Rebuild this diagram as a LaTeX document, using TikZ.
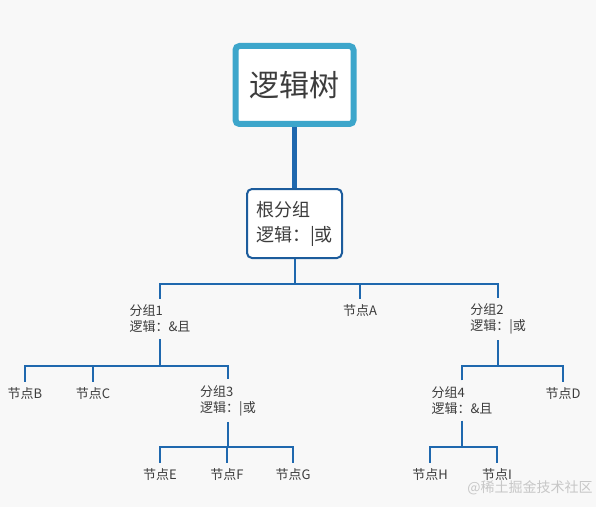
\documentclass[tikz,border=0pt]{standalone}
\usepackage{fontspec}
\newfontfamily\cjk{Noto Sans CJK SC}
\usepackage{xcolor}
\usetikzlibrary{positioning, calc}
\definecolor{titleblue}{HTML}{3DA6CB}
\definecolor{lineblue}{HTML}{1F68AE}
\definecolor{boxblue}{HTML}{1C5C9C}
\definecolor{textgray}{HTML}{3C3C3C}
\definecolor{bggray}{HTML}{F8F8F8}

\begin{document}
\begin{tikzpicture}[x=1pt, y=1pt,
    small/.style={font=\cjk\fontsize{13}{16}\selectfont, text=textgray, inner sep=6pt},
    group/.style={small, align=left},
    conn/.style={draw=lineblue, line width=2pt},
    trunk/.style={draw=lineblue, line width=5pt}]
    \fill[bggray] (0,0) rectangle (596,507);
    \useasboundingbox (0,0) rectangle (596,507);

    % title and root group
    \node[draw=titleblue, line width=6pt, fill=white, rounded corners=4pt,
      minimum width=118pt, minimum height=78pt, text=textgray,
      font=\cjk\fontsize{30}{36}\selectfont] (title) at (294.5,422) {逻辑树};
    \node[draw=boxblue, line width=2pt, fill=white, rounded corners=5pt,
      minimum width=95pt, minimum height=69pt, align=left, text=textgray,
      font=\cjk\fontsize{18}{25}\selectfont] (root) at (294.5,283.5) {根分组\\逻辑：|或};
    \draw[trunk] (title.south) -- (root.north);

    % first level
    \node[group] (g1) at (160,188) {分组1\\逻辑：\&且};
    \node[small] (na) at (360,196) {节点A};
    \node[group] (g2) at (498,188) {分组2\\逻辑：|或};
    \coordinate (j1) at (294.5,223);
    \draw[conn] (root.south) -- (j1);
    \draw[conn] (g1.north) |- (j1) -| (g2.north);
    \draw[conn] (j1) -| (na.north);

    % second level
    \node[small] (nb) at (25,113) {节点B};
    \node[small] (nc) at (93,113) {节点C};
    \node[group] (g3) at (228,106.5) {分组3\\逻辑：|或};
    \coordinate (j2) at (160,141);
    \draw[conn] (g1.south) -- (j2);
    \draw[conn] (nb.north) |- (j2) -| (g3.north);
    \draw[conn] (j2) -| (nc.north);

    \node[group] (g4) at (462,106.5) {分组4\\逻辑：\&且};
    \node[small] (nd) at (563,113) {节点D};
    \coordinate (j3) at (498,141);
    \draw[conn] (g2.south) -- (j3);
    \draw[conn] (g4.north) |- (j3) -| (nd.north);

    % third level
    \node[small] (ne) at (160,32) {节点E};
    \node[small] (nf) at (227,32) {节点F};
    \node[small] (ng) at (293,32) {节点G};
    \coordinate (j4) at (228,60);
    \draw[conn] (g3.south) -- (j4);
    \draw[conn] (ne.north) |- (j4) -| (ng.north);
    \draw[conn] (j4) -| (nf.north);

    \node[small] (nh) at (430,32) {节点H};
    \node[small] (ni) at (497,32) {节点I};
    \coordinate (j5) at (462,60);
    \draw[conn] (g4.south) -- (j5);
    \draw[conn] (nh.north) |- (j5) -| (ni.north);

    \node[font=\cjk\fontsize{14}{16}\selectfont, text=black!22] (mark) at (530,19) {@稀土掘金技术社区};
\end{tikzpicture}
\end{document}
